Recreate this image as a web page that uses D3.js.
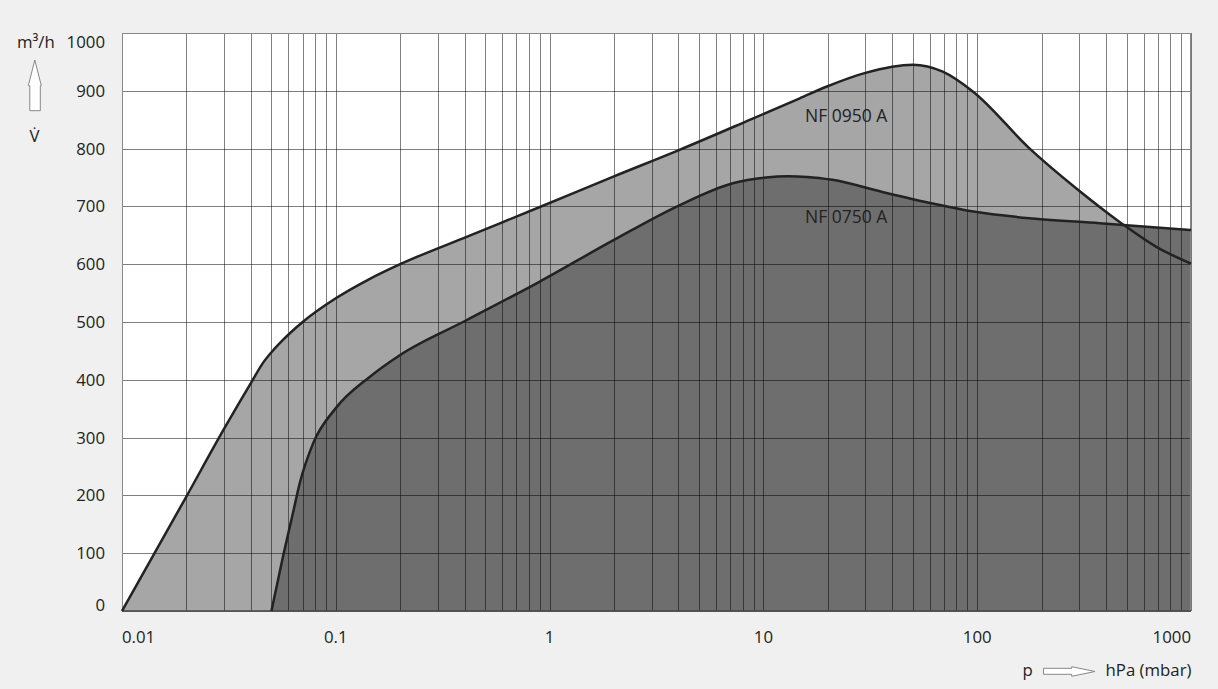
<!DOCTYPE html>
<html>
<head>
<meta charset="utf-8">
<script src="https://cdn.jsdelivr.net/npm/d3@7"></script>
<style>
  html, body { margin: 0; padding: 0; background: #f0f0f0; }
  svg { display: block; font-family: "Open Sans", "Noto Sans", sans-serif; }
</style>
</head>
<body>
<svg id="chart" width="1218" height="689"></svg>
<script>
// ---- data ----
const xTickValues = [0.01, 0.1, 1, 10, 100, 1000];
const xTickLabels = ["0.01", "0.1", "1", "10", "100", "1000"];
const yTickValues = [0, 100, 200, 300, 400, 500, 600, 700, 800, 900, 1000];
const seriesNames = ["NF 0950 A", "NF 0750 A"];
// pressure (hPa) values for NF 0950 A
const p0950 = [0.01, 0.02, 0.03, 0.04, 0.046, 0.0515, 0.0566, 0.07, 0.1, 0.1415, 0.2, 0.42, 0.9, 2, 4, 8.8, 14.8, 19.7, 30, 50, 69, 96, 176, 291, 472, 688, 1000];
const v0950 = [0, 198, 315, 394, 431, 453, 469, 500, 541, 573, 600, 649, 699, 752, 797, 851, 887, 907, 931, 945, 933, 898, 800, 731, 671, 630, 601];
// pressure (hPa) values for NF 0750 A
const p0750 = [0.05, 0.0566, 0.063, 0.0678, 0.0783, 0.1, 0.144, 0.2, 0.408, 0.9, 2, 4, 7.2, 10.3, 13, 16, 21, 36, 62, 96, 182, 374, 1000];
const v0750 = [0, 94, 169, 221, 290, 351, 405, 443, 503, 570, 642, 701, 740, 750, 752, 751, 746, 725, 705, 691, 679, 671, 659];

// ---- layout ----
const L = 122, R = 1191, T = 33, B = 611;
const svg = d3.select("#chart");
const x = d3.scaleLog().domain([0.01, 1000]).range([L, R]);
const y = d3.scaleLinear().domain([0, 1000]).range([B, T]);

// plot background
svg.append("rect").attr("x", L).attr("y", T).attr("width", R - L).attr("height", B - T)
  .attr("fill", "#ffffff");

// fills
const area = d3.area().x(d => x(d[0])).y0(B).y1(d => y(d[1])).curve(d3.curveMonotoneX);
const line = d3.line().x(d => x(d[0])).y(d => y(d[1])).curve(d3.curveMonotoneX);
const d0950 = p0950.map((p, i) => [p, v0950[i]]);
const d0750 = p0750.map((p, i) => [p, v0750[i]]);
svg.append("path").attr("d", area(d0950)).attr("fill", "#a6a6a6");
svg.append("path").attr("d", area(d0750)).attr("fill", "#6e6e6e");

// grid (drawn over fills)
const grid = svg.append("g").attr("stroke", "#000").attr("stroke-opacity", 0.5).attr("stroke-width", 1);
const minor = [];
for (let e = -2; e < 3; e++) {
  for (let m = 1; m <= 9; m++) minor.push(m * Math.pow(10, e));
}
minor.push(1000);
minor.forEach(v => {
  const px = Math.round(x(v)) + 0.5;
  grid.append("line").attr("x1", px).attr("x2", px).attr("y1", T).attr("y2", B);
});
yTickValues.forEach(v => {
  const py = Math.round(y(v)) + 0.5;
  grid.append("line").attr("x1", L).attr("x2", R).attr("y1", py).attr("y2", py);
});

// frame
svg.append("rect").attr("x", L + 0.5).attr("y", T + 0.5).attr("width", R - L - 1).attr("height", B - T)
  .attr("fill", "none").attr("stroke", "#888").attr("stroke-width", 1);
svg.append("line").attr("x1", L).attr("x2", R).attr("y1", B).attr("y2", B)
  .attr("stroke", "#444").attr("stroke-width", 1.5);

// curves
svg.append("path").attr("d", line(d0950)).attr("fill", "none").attr("stroke", "#222").attr("stroke-width", 2.5);
svg.append("path").attr("d", line(d0750)).attr("fill", "none").attr("stroke", "#222").attr("stroke-width", 2.5);

// series labels
svg.append("text").attr("x", 805).attr("y", 122).attr("font-size", 17.5).attr("fill", "#222").text(seriesNames[0]);
svg.append("text").attr("x", 805).attr("y", 223).attr("font-size", 17.5).attr("fill", "#222").text(seriesNames[1]);

// x tick labels
xTickValues.forEach((v, i) => {
  const anchor = i === 0 ? "start" : (i === xTickValues.length - 1 ? "end" : "middle");
  svg.append("text").attr("x", x(v)).attr("y", 643).attr("text-anchor", anchor)
    .attr("font-size", 16.8).attr("fill", "#222").text(xTickLabels[i]);
});

// y tick labels
yTickValues.forEach(v => {
  let by = y(v) + 6;
  by = Math.max(T + 15, Math.min(B, by));
  svg.append("text").attr("x", 105).attr("y", by).attr("text-anchor", "end")
    .attr("font-size", 16.8).attr("fill", "#222").text(String(v));
});

// y axis unit
svg.append("text").attr("x", 17).attr("y", 48).attr("font-size", 16.8).attr("fill", "#222").text("m³/h");
svg.append("path")
  .attr("d", "M34.8,60 L41.3,85.7 L40.3,85.7 L40.3,110.7 L29.8,110.7 L29.8,85.7 L28.3,85.7 Z")
  .attr("fill", "#fff").attr("stroke", "#888").attr("stroke-width", 1);
svg.append("text").attr("x", 34.5).attr("y", 142).attr("text-anchor", "middle")
  .attr("font-size", 16.8).attr("fill", "#222").text("V\u0307");

// x axis unit
svg.append("text").attr("x", 1022.5).attr("y", 676).attr("font-size", 16.8).attr("fill", "#222").text("p");
svg.append("path")
  .attr("d", "M1043.5,668.3 L1071.7,668.3 L1071.7,666.7 L1095,671.5 L1071.7,676.3 L1071.7,674.3 L1043.5,674.3 Z")
  .attr("fill", "#fff").attr("stroke", "#888").attr("stroke-width", 1);
svg.append("text").attr("x", 1191.5).attr("y", 676).attr("text-anchor", "end")
  .attr("font-size", 16.8).attr("fill", "#222").text("hPa (mbar)");
</script>
</body>
</html>
